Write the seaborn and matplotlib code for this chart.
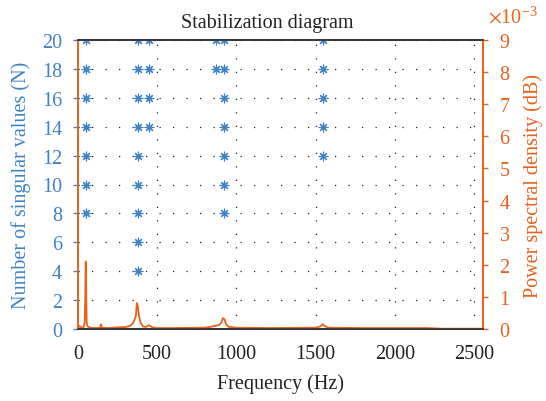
import numpy as np
import pandas as pd
import matplotlib
matplotlib.use("Agg")
import matplotlib.pyplot as plt
import seaborn as sns
from matplotlib.ticker import ScalarFormatter

# Stable poles: model order N and the identified frequencies (Hz) at that order
orders = [20, 18, 16, 14, 12, 10, 8, 6, 4]
pole_freqs = [
    [50, 377, 450, 869, 924, 1549],
    [50, 377, 450, 869, 924, 1549],
    [50, 377, 450, 924, 1549],
    [50, 377, 450, 924, 1549],
    [50, 377, 924, 1549],
    [50, 377, 924],
    [50, 377, 924],
    [377],
    [377],
]

# Power spectral density curve
psd_freq = [0, 10, 20, 35, 42, 46, 48, 50, 52, 55, 60, 80, 100, 140, 145, 150,
            200, 240, 300, 330, 350, 365, 372, 378, 385, 395, 410, 430, 445, 455,
            470, 500, 600, 800, 850, 890, 905, 915, 925, 935, 950, 1000, 1200,
            1500, 1530, 1545, 1555, 1580, 1800, 2000, 2200, 2300, 2560]
psd_val = [0.02e-3, 0.10e-3, 0.05e-3, 0.05e-3, 0.20e-3, 1.0e-3, 2.1e-3, 2.1e-3,
           1.0e-3, 0.20e-3, 0.08e-3, 0.04e-3, 0.03e-3, 0.04e-3, 0.15e-3, 0.04e-3,
           0.03e-3, 0.05e-3, 0.06e-3, 0.10e-3, 0.20e-3, 0.40e-3, 0.81e-3, 0.70e-3,
           0.40e-3, 0.20e-3, 0.08e-3, 0.06e-3, 0.12e-3, 0.10e-3, 0.05e-3, 0.03e-3,
           0.03e-3, 0.04e-3, 0.08e-3, 0.12e-3, 0.20e-3, 0.34e-3, 0.30e-3, 0.15e-3,
           0.07e-3, 0.04e-3, 0.03e-3, 0.04e-3, 0.08e-3, 0.15e-3, 0.10e-3, 0.04e-3,
           0.03e-3, 0.03e-3, 0.03e-3, 0.01e-3, 0.01e-3]

x_ticks = [0, 500, 1000, 1500, 2000, 2500]
left_ticks = list(range(0, 21, 2))
right_ticks = [i * 1e-3 for i in range(10)]

BLUE = "#3f83c5"
ORANGE = "#e8601a"
DARK = "#333333"
TEXT = "#222222"

sns.set_style("white")
plt.rcParams["font.family"] = ["Liberation Serif", "DejaVu Serif"]
plt.rcParams["mathtext.fontset"] = "stix"

poles = pd.DataFrame(
    [(f, n) for n, fs in zip(orders, pole_freqs) for f in fs],
    columns=["freq", "order"],
)
spec = pd.DataFrame({"freq": psd_freq, "psd": psd_val})

fig = plt.figure(figsize=(5.46, 4.02), dpi=100)
ax = fig.add_axes([78 / 546, 1 - 330 / 402, 405 / 546, 289 / 402])
ax2 = ax.twinx()

# dotted grid
for y in left_ticks[1:]:
    ax.axhline(y, color="#222222", lw=0.9, ls=(0, (1, 9.8)), zorder=1)
for x in x_ticks[1:]:
    ax.axvline(x, color="#222222", lw=0.9, ls=(0, (1, 9.8)), zorder=1)

sns.scatterplot(data=poles, x="freq", y="order", ax=ax, marker=(8, 2, 0),
                s=40, color=BLUE, edgecolor=BLUE, linewidth=0.85, zorder=3,
                legend=False)
sns.lineplot(data=spec, x="freq", y="psd", ax=ax2, color=ORANGE, lw=1.3,
             estimator=None, sort=False, zorder=2)

ax.set_xlim(0, 2557)
ax.set_ylim(0, 20)
ax2.set_ylim(0, 9e-3)
ax.set_xticks(x_ticks)
ax.set_yticks(left_ticks)
ax2.set_yticks(right_ticks)

fs = 14.5
fmt = ScalarFormatter(useMathText=True)
fmt.set_powerlimits((-2, 2))
ax2.yaxis.set_major_formatter(fmt)
ax2.yaxis.OFFSETTEXTPAD = 13
off = ax2.yaxis.get_offset_text()
off.set_color(ORANGE)
off.set_fontsize(fs)
off.set_horizontalalignment("left")
off.set_x(1.012)

ax.set_title("Stabilization diagram", fontsize=fs, color=TEXT, pad=9, x=0.467)
ax.set_xlabel("Frequency (Hz)", fontsize=fs, color=TEXT, labelpad=8)
ax.set_ylabel("Number of singular values (N)", fontsize=fs, color=BLUE, labelpad=8)
ax2.set_ylabel("Power spectral density (dB)", fontsize=fs, color=ORANGE, labelpad=9)

ax.tick_params(axis="x", colors=DARK, labelcolor=TEXT, labelsize=fs,
               direction="out", length=3.5, width=1, pad=7)
ax.tick_params(axis="y", colors=BLUE, labelsize=fs, direction="out",
               length=3.5, width=1, pad=8)
ax2.tick_params(axis="y", colors=ORANGE, labelsize=fs, direction="out",
                length=3.5, width=1, pad=8)

for a in (ax, ax2):
    a.spines["left"].set_color(ORANGE)
    a.spines["right"].set_color(ORANGE)
    a.spines["top"].set_color(DARK)
    a.spines["bottom"].set_color(DARK)
    for s in a.spines.values():
        s.set_linewidth(1.2)
ax.set_facecolor("white")
fig.patch.set_facecolor("white")

fig.savefig("out.png", dpi=100)
